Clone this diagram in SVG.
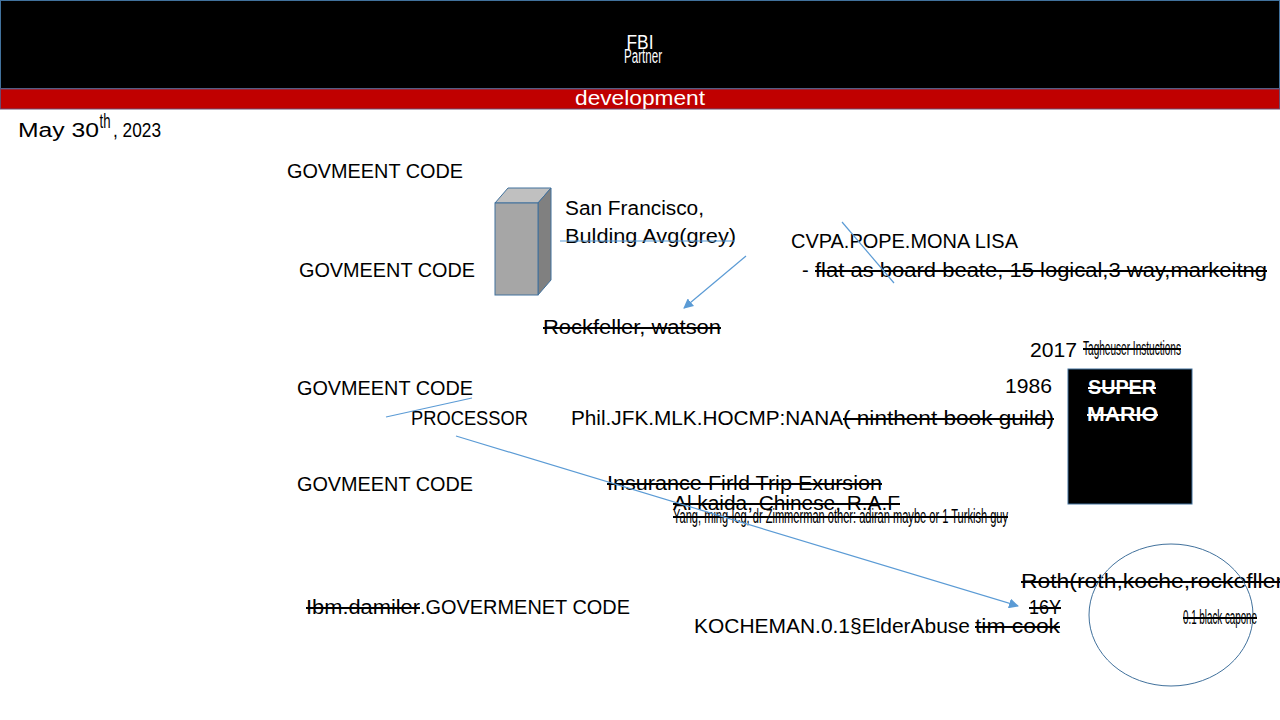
<svg xmlns="http://www.w3.org/2000/svg" width="1280" height="720" viewBox="0 0 1280 720">
<style>
text{font-family:"Liberation Sans",Arial,sans-serif;fill:#000;font-size:20px}
.w{fill:#fff}
.s{text-decoration:line-through}
.c{stroke:#5b9bd5;stroke-width:1.2;fill:none}
.o{stroke:#41719c;stroke-width:1}
</style>
<defs>
<marker id="ah" viewBox="0 0 10 10" refX="9" refY="5" markerWidth="10" markerHeight="10" markerUnits="userSpaceOnUse" orient="auto">
<path d="M0,0 L10,5 L0,10 z" fill="#5b9bd5"/>
</marker>
</defs>
<rect width="1280" height="720" fill="#fff"/>
<g id="header">
<rect x="0.5" y="0.5" width="1279" height="88" fill="#000" class="o"/>
<rect x="0.5" y="89" width="1279" height="20" fill="#c00000" stroke="#6b4a6e" stroke-width="1"/>
<text x="640" y="49" class="w" text-anchor="middle" font-size="15" textLength="27" lengthAdjust="spacingAndGlyphs">FBI</text>
<text x="643" y="63" class="w" text-anchor="middle" font-size="8.5" textLength="38" lengthAdjust="spacingAndGlyphs">Partner</text>
<text x="640" y="105" class="w" text-anchor="middle" font-size="19" textLength="130" lengthAdjust="spacingAndGlyphs">development</text>
</g>
<g id="date">
<text x="18" y="137" font-size="19" textLength="81" lengthAdjust="spacingAndGlyphs">May 30</text>
<text x="99.5" y="128" font-size="10" textLength="11" lengthAdjust="spacingAndGlyphs">th</text>
<text x="113" y="137" font-size="19" textLength="48" lengthAdjust="spacingAndGlyphs">, 2023</text>
</g>
<g id="gov1"><text x="287" y="178" textLength="176" lengthAdjust="spacingAndGlyphs">GOVMEENT CODE</text></g>
<g id="gov2"><text x="299" y="277" textLength="176" lengthAdjust="spacingAndGlyphs">GOVMEENT CODE</text></g>
<g id="gov3"><text x="297" y="395" textLength="176" lengthAdjust="spacingAndGlyphs">GOVMEENT CODE</text></g>
<g id="gov4"><text x="297" y="491" textLength="176" lengthAdjust="spacingAndGlyphs">GOVMEENT CODE</text></g>
<g id="building">
<polygon points="495,203 508,188 551,188 538,203" fill="#c0c0c0" class="o"/>
<polygon points="538,203 551,188 551,280 538,295" fill="#808080" class="o"/>
<rect x="495" y="203" width="43" height="92" fill="#a6a6a6" class="o"/>
</g>
<g id="sf">
<text x="565" y="215" textLength="139" lengthAdjust="spacingAndGlyphs">San Francisco,</text>
<text x="565" y="243" textLength="171" lengthAdjust="spacingAndGlyphs">Bulding Avg(grey)</text>
</g>
<g id="cvpa">
<text x="791" y="248" textLength="227" lengthAdjust="spacingAndGlyphs">CVPA.POPE.MONA LISA</text>
<text x="802" y="277">-</text>
<text x="815" y="277" class="s" textLength="452" lengthAdjust="spacingAndGlyphs">flat as board beate, 15 logical,3 way,markeitng</text>
</g>
<g id="rockfeller"><text x="543" y="334" class="s" textLength="178" lengthAdjust="spacingAndGlyphs">Rockfeller, watson</text></g>
<g id="y2017">
<text x="1030" y="357" textLength="47" lengthAdjust="spacingAndGlyphs">2017</text>
<text x="1083" y="355" font-size="7" class="s" textLength="98" lengthAdjust="spacingAndGlyphs">Tagheuser Instuctions</text>
</g>
<g id="y1986"><text x="1005" y="393" textLength="47" lengthAdjust="spacingAndGlyphs">1986</text></g>
<g id="mario">
<rect x="1068" y="369" width="124" height="135" fill="#000" class="o"/>
<text x="1088" y="394" class="w s" font-weight="bold" font-size="19" textLength="68" lengthAdjust="spacingAndGlyphs">SUPER</text>
<text x="1087" y="421" class="w s" font-weight="bold" font-size="19" textLength="71" lengthAdjust="spacingAndGlyphs">MARIO</text>
</g>
<g id="processor"><text x="411" y="425" textLength="117" lengthAdjust="spacingAndGlyphs">PROCESSOR</text></g>
<g id="phil">
<text x="571" y="425" textLength="272" lengthAdjust="spacingAndGlyphs">Phil.JFK.MLK.HOCMP:NANA</text>
<text x="843" y="425" class="s" textLength="211" lengthAdjust="spacingAndGlyphs">( ninthent book guild)</text>
</g>
<g id="insurance">
<text x="607" y="490" class="s" textLength="275" lengthAdjust="spacingAndGlyphs">Insurance Firld Trip Exursion</text>
<text x="673" y="510" class="s" font-size="21" textLength="227" lengthAdjust="spacingAndGlyphs">Al kaida, Chinese, R.A.F</text>
<text x="673" y="523" class="s" font-size="8" textLength="335" lengthAdjust="spacingAndGlyphs">Yang, ming-leg, dr Zimmerman other: adiran maybe or 1 Turkish guy</text>
</g>
<g id="roth">
<text x="1021" y="588" class="s" textLength="262" lengthAdjust="spacingAndGlyphs">Roth(roth,koche,rockefller</text>
<text x="1029" y="614" class="s" textLength="32" lengthAdjust="spacingAndGlyphs">16Y</text>
</g>
<g id="circle">
<ellipse cx="1171" cy="615" rx="82" ry="71" fill="none" class="o"/>
<text x="1183" y="624" class="s" font-size="8" textLength="74" lengthAdjust="spacingAndGlyphs">0.1 black capone</text>
</g>
<g id="ibm">
<text x="306" y="614" class="s" textLength="114" lengthAdjust="spacingAndGlyphs">Ibm.damiler</text>
<text x="420" y="614" textLength="210" lengthAdjust="spacingAndGlyphs">.GOVERMENET CODE</text>
</g>
<g id="kocheman">
<text x="694" y="633" textLength="276" lengthAdjust="spacingAndGlyphs">KOCHEMAN.0.1§ElderAbuse</text>
<text x="975" y="633" class="s" textLength="85" lengthAdjust="spacingAndGlyphs">tim cook</text>
</g>
<g id="connectors">
<line x1="560" y1="241" x2="735" y2="241" class="c"/>
<line x1="842" y1="222" x2="894" y2="283" class="c"/>
<line x1="746" y1="256" x2="684" y2="308" class="c" marker-end="url(#ah)"/>
<line x1="386" y1="417" x2="472" y2="398" class="c"/>
<line x1="456" y1="436" x2="1018" y2="606" class="c" marker-end="url(#ah)"/>
</g>
</svg>
